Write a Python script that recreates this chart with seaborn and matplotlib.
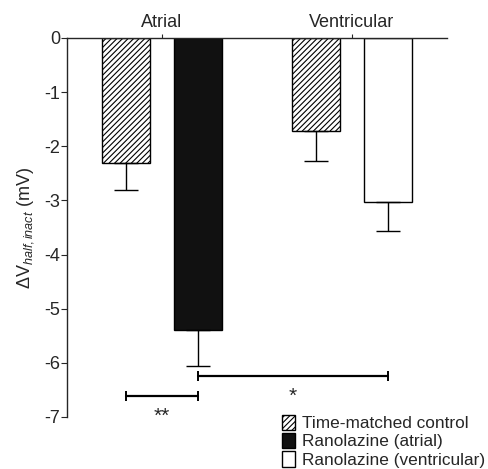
import pandas as pd
import seaborn as sns
import matplotlib.pyplot as plt
from matplotlib.patches import Patch

regions = ["Atrial", "Ventricular"]
treatments = ["Time-matched control", "Ranolazine"]
ctrl_mean = [-2.30, -1.71]
ctrl_sem = [0.51, 0.57]
rano_mean = [-5.40, -3.03]
rano_sem = [0.66, 0.53]
legend_labels = ["Time-matched control", "Ranolazine (atrial)", "Ranolazine (ventricular)"]
y_ticks = [0, -1, -2, -3, -4, -5, -6, -7]

# significance: (bar a, bar b, height, stars) with bars as (region idx, treatment idx)
sig_marks = [((0, 0), (0, 1), -6.62, "**"),
             ((0, 1), (1, 1), -6.25, "*")]

sns.set_style("ticks")
plt.rcParams['font.family'] = ['Liberation Sans', 'DejaVu Sans']
plt.rcParams['mathtext.fontset'] = 'custom'
plt.rcParams['mathtext.rm'] = 'Liberation Sans'
plt.rcParams['mathtext.it'] = 'Liberation Sans:italic'
plt.rcParams['axes.unicode_minus'] = False
plt.rcParams['hatch.linewidth'] = 0.8

df = pd.DataFrame({
    "region": regions * 2,
    "treatment": [treatments[0]] * 2 + [treatments[1]] * 2,
    "value": ctrl_mean + rano_mean,
})

fig = plt.figure(figsize=(4.88, 4.69), dpi=100)
ax = fig.add_axes([0.1373, 0.1109, 0.7787, 0.8081])

sns.barplot(data=df, x="region", y="value", hue="treatment", order=regions,
            hue_order=treatments, palette=["white", "white"], edgecolor="black",
            linewidth=1.0, width=0.758, gap=0.33, errorbar=None, legend=False, ax=ax)

bar_conts = list(ax.containers)
for bar in bar_conts[0]:
    bar.set_hatch("//////")
bar_conts[1][0].set_facecolor("#111111")

sems = [ctrl_sem, rano_sem]
centers = {}
for t, cont in enumerate(bar_conts):
    for r, bar in enumerate(cont):
        xc = bar.get_x() + bar.get_width() / 2
        centers[(r, t)] = xc
        ax.errorbar(xc, bar.get_height(), yerr=[[sems[t][r]], [0]], fmt="none",
                    ecolor="black", elinewidth=1.0, capsize=8.5, capthick=1.0, zorder=1)

for a, b, y, stars in sig_marks:
    xa, xb = centers[a], centers[b]
    ax.plot([xa, xb], [y, y], color="black", lw=1.6, marker="|", ms=7, mew=1.4,
            clip_on=False)
    ax.text((xa + xb) / 2, y - 0.37, stars, ha="center", va="center", fontsize=15)

ax.set_xlim(-0.5, 1.5)
ax.set_ylim(-7, 0)
ax.set_yticks(y_ticks)
ax.set_yticklabels([str(v) for v in y_ticks], fontsize=13)
ax.xaxis.tick_top()
ax.set_xlabel("")
ax.tick_params(axis="x", length=3, pad=2, labelsize=13)
ax.tick_params(axis="y", length=4, pad=1)
ax.set_ylabel(r"$\Delta\mathrm{V}_{half,inact}$ (mV)", fontsize=13, labelpad=6)
ax.spines["bottom"].set_visible(False)
ax.spines["right"].set_visible(False)
ax.spines["top"].set_linewidth(1.0)
ax.spines["left"].set_linewidth(1.0)

handles = [Patch(facecolor="white", edgecolor="black", hatch="//////"),
           Patch(facecolor="#111111", edgecolor="black"),
           Patch(facecolor="white", edgecolor="black")]
fig.legend(handles, legend_labels, loc="lower right", bbox_to_anchor=(1.0, -0.003),
           frameon=False, fontsize=12.4, handlelength=0.8, handleheight=1.0,
           handletextpad=0.4, labelspacing=0.1, borderpad=0.1, borderaxespad=0.05)

fig.savefig("out.png", dpi=100)
